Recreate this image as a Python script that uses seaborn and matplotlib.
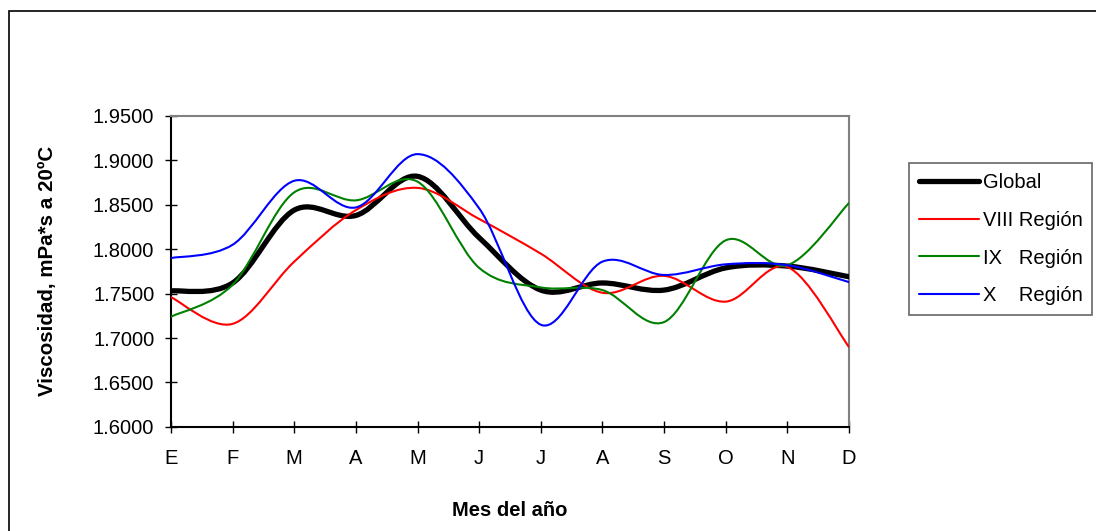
import numpy as np
import pandas as pd
import seaborn as sns
import matplotlib.pyplot as plt
from matplotlib.path import Path
from matplotlib.patches import PathPatch, Rectangle
from matplotlib.lines import Line2D

# Meses del año
meses = ['E', 'F', 'M', 'A', 'M', 'J', 'J', 'A', 'S', 'O', 'N', 'D']

# Viscosidad, mPa*s a 20ºC
global_vals = [1.753, 1.762, 1.844, 1.838, 1.882, 1.813, 1.754, 1.762, 1.754, 1.779, 1.781, 1.769]
viii_vals = [1.746, 1.716, 1.786, 1.844, 1.869, 1.834, 1.795, 1.751, 1.770, 1.741, 1.780, 1.690]
ix_vals = [1.724, 1.760, 1.864, 1.855, 1.876, 1.779, 1.757, 1.754, 1.718, 1.810, 1.782, 1.852]
x_vals = [1.790, 1.805, 1.877, 1.847, 1.907, 1.846, 1.715, 1.786, 1.771, 1.783, 1.782, 1.763]

series = ['Global', 'VIII Región', 'IX   Región', 'X    Región']
colores = ['#000000', '#FF0000', '#008000', '#0000FF']
grosores = [3.8, 1.5, 1.5, 1.5]

df = pd.DataFrame({'mes': np.arange(len(meses)),
                   series[0]: global_vals, series[1]: viii_vals,
                   series[2]: ix_vals, series[3]: x_vals})


def curva_suave(xs, ys):
    # Línea suavizada estilo Excel (Bezier tipo Catmull-Rom)
    pts = np.column_stack([xs, ys])
    n = len(pts)
    verts = [pts[0]]
    codes = [Path.MOVETO]
    for i in range(n - 1):
        p0 = pts[max(i - 1, 0)]
        p1 = pts[i]
        p2 = pts[i + 1]
        p3 = pts[min(i + 2, n - 1)]
        verts += [p1 + (p2 - p0) / 6, p2 - (p3 - p1) / 6, p2]
        codes += [Path.CURVE4] * 3
    return Path(verts, codes)


sns.set_style('white')
plt.rcParams['font.family'] = ['Liberation Sans', 'DejaVu Sans']
plt.rcParams['text.color'] = 'black'
plt.rcParams['axes.labelcolor'] = 'black'

fig = plt.figure(figsize=(10.96, 5.31), dpi=100)
ax = fig.add_axes([0.156, 0.196, 0.6186, 0.5857])

# Borde exterior del gráfico
fig.patches.append(Rectangle((8.5 / 1096, -0.1), 1.2, 1 - 10.5 / 531 + 0.1,
                             transform=fig.transFigure, fill=False,
                             edgecolor='black', linewidth=1.2))

for nombre, color, lw in zip(series, colores, grosores):
    ruta = curva_suave(df['mes'].values, df[nombre].values)
    ax.add_patch(PathPatch(ruta, fill=False, edgecolor=color, linewidth=lw,
                           capstyle='round', joinstyle='round', zorder=3))

ax.set_xlim(0, 11)
ax.set_ylim(1.6, 1.95)
ax.set_xticks(df['mes'])
ax.set_xticklabels(meses)
ax.set_yticks(np.arange(1.6, 1.9501, 0.05))
ax.set_yticklabels([f'{v:.4f}' for v in np.arange(1.6, 1.9501, 0.05)])
ax.tick_params(axis='both', direction='inout', length=8, width=1, labelsize=14.5,
               colors='black', left=True, bottom=True)
ax.tick_params(axis='x', pad=12)
ax.tick_params(axis='y', pad=8)

for lado in ['top', 'right']:
    ax.spines[lado].set_color('#808080')
    ax.spines[lado].set_linewidth(1.5)
for lado in ['left', 'bottom']:
    ax.spines[lado].set_color('black')
    ax.spines[lado].set_linewidth(1.5)

ax.set_xlabel('Mes del año', fontsize=14.5, fontweight='bold', labelpad=24)
ax.set_ylabel('Viscosidad, mPa*s a 20ºC', fontsize=14.8, fontweight='bold', labelpad=26)

handles = [Line2D([], [], color=c, linewidth=lw) for c, lw in zip(colores, grosores)]
leg = fig.legend(handles, series, loc='upper left',
                 bbox_to_anchor=(909 / 1096, 1 - 163 / 531),
                 fontsize=14.5, frameon=True, fancybox=False, edgecolor='#404040',
                 handlelength=3.0, handletextpad=0.15, labelspacing=0.93,
                 borderpad=0.5, borderaxespad=0)
leg.get_frame().set_linewidth(1.2)

fig.savefig('out.png', dpi=100)
